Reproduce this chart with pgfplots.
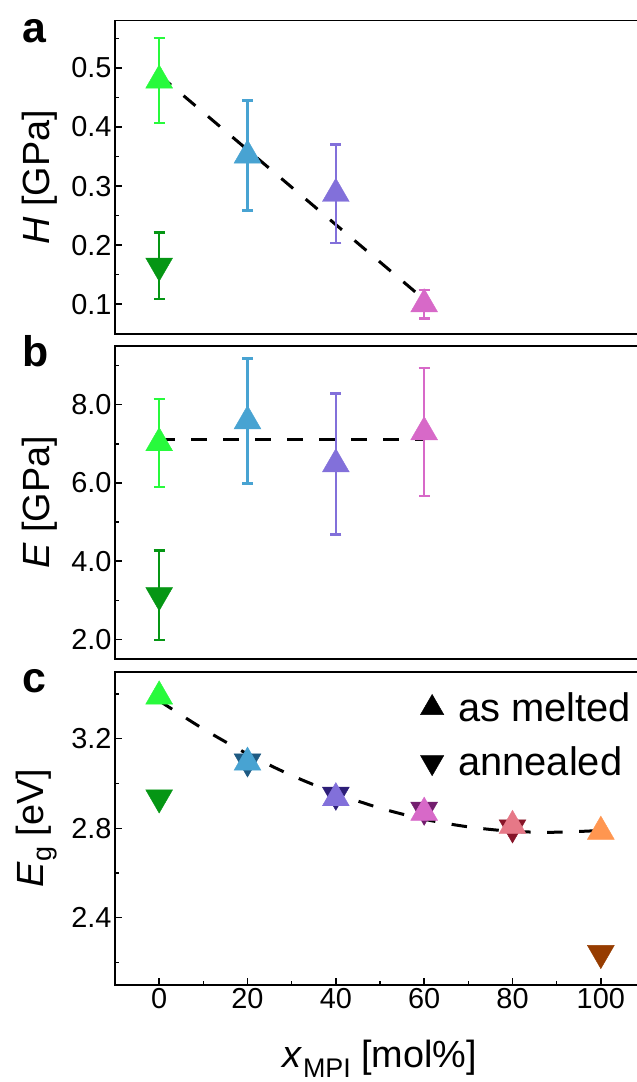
\documentclass[border=0pt]{standalone}
\usepackage{fontspec}
\setmainfont{Liberation Sans}
\usepackage{pgfplots}
\pgfplotsset{compat=1.18}

\definecolor{gA}{RGB}{40,250,60}
\definecolor{gB}{RGB}{5,150,20}
\definecolor{bA}{RGB}{72,163,210}
\definecolor{bB}{RGB}{30,90,130}
\definecolor{pA}{RGB}{130,112,218}
\definecolor{pB}{RGB}{45,30,120}
\definecolor{oA}{RGB}{215,105,200}
\definecolor{oB}{RGB}{115,30,110}
\definecolor{rA}{RGB}{230,120,135}
\definecolor{rB}{RGB}{135,20,40}
\definecolor{yA}{RGB}{255,150,80}
\definecolor{yB}{RGB}{150,60,0}

\pgfplotsset{
  common/.style={
    scale only axis, width=530bp, height=313bp,
    xmin=-10, xmax=110,
    axis line style={line width=1.6bp},
    tick align=inside, xtick pos=left, ytick pos=left,
    major tick length=7bp, minor tick length=4bp,
    every tick/.style={line width=1.4bp, black},
    ticklabel style={font=\fontsize{29}{34}\selectfont},
    label style={font=\fontsize{38}{44}\selectfont},
    /pgf/number format/assume math mode=true,
    yticklabel style={/pgf/number format/.cd, fixed, fixed zerofill, precision=1},
    clip=false,
  },
  up/.style={only marks, mark=triangle*, mark size=15.5bp, color=#1,
    mark options={solid, fill=#1, draw=#1, line width=0.4bp},
    error bars/y dir=both, error bars/y explicit,
    error bars/error bar style={line width=2.5bp, #1},
    error bars/error mark options={rotate=90, mark size=5.5bp, line width=2.5bp, #1}},
  dn/.style={only marks, mark=triangle*, mark size=15.5bp, color=#1,
    mark options={solid, rotate=180, fill=#1, draw=#1, line width=0.4bp},
    error bars/y dir=both, error bars/y explicit,
    error bars/error bar style={line width=2.5bp, #1},
    error bars/error mark options={rotate=90, mark size=5.5bp, line width=2.5bp, #1}},
  fit/.style={black, line width=3bp, dash pattern=on 15.5bp off 16.5bp, no marks},
}

\begin{document}
\begin{tikzpicture}
\useasboundingbox (0,0) rectangle (637bp,-1082bp);

% ---------- panel a ----------
\begin{axis}[common, at={(115bp,-20.7bp)}, anchor=north west,
  ymin=0.05, ymax=0.58,
  ytick={0.1,0.2,0.3,0.4,0.5}, minor ytick={0.15,0.25,0.35,0.45,0.55},
  xtick=\empty,
  ylabel={\textit{H} [GPa]},
  ylabel style={at={(axis description cs:-0.1415,0.5)}, anchor=center},
]
\addplot[fit] coordinates {(0,0.488) (60,0.108)};
\addplot[dn=gB] coordinates {(0,0.165) +- (0,0.056)};
\addplot[up=gA] coordinates {(0,0.479) +- (0,0.072)};
\addplot[up=bA] coordinates {(20,0.352) +- (0,0.093)};
\addplot[up=pA] coordinates {(40,0.287) +- (0,0.083)};
\addplot[up=oA] coordinates {(60,0.100) +- (0,0.024)};
\end{axis}

% ---------- panel b ----------
\begin{axis}[common, at={(115bp,-346bp)}, anchor=north west,
  ymin=1.5, ymax=9.5,
  ytick={2,4,6,8}, minor ytick={3,5,7,9},
  xtick=\empty,
  ylabel={\textit{E} [GPa]},
  ylabel style={at={(axis description cs:-0.1415,0.5)}, anchor=center},
]
\addplot[fit] coordinates {(0,7.1) (60,7.1)};
\addplot[dn=gB] coordinates {(0,3.13) +- (0,1.14)};
\addplot[up=gA] coordinates {(0,7.02) +- (0,1.12)};
\addplot[up=bA] coordinates {(20,7.58) +- (0,1.60)};
\addplot[up=pA] coordinates {(40,6.48) +- (0,1.80)};
\addplot[up=oA] coordinates {(60,7.30) +- (0,1.64)};
\end{axis}

% ---------- panel c ----------
\begin{axis}[common, at={(115bp,-671.7bp)}, anchor=north west,
  ymin=2.1, ymax=3.5,
  ytick={2.4,2.8,3.2}, minor ytick={2.2,2.6,3.0,3.4},
  xtick={0,20,40,60,80,100}, minor xtick={10,30,50,70,90},
  xticklabel style={/pgf/number format/.cd, fixed, precision=0},
  ylabel={\textit{E}\raisebox{-0.22em}{\fontsize{27}{30}\selectfont g} [eV]},
  ylabel style={at={(axis description cs:-0.148,0.5)}, anchor=center},
  xlabel={\textit{x}\raisebox{-0.25em}{\fontsize{27}{30}\selectfont MPI} [mol\%]},
  xlabel style={at={(axis description cs:0.5,-0.265)}, anchor=base},
  legend style={at={(axis description cs:0.575,0.94)}, anchor=north west,
    draw=none, fill=none, inner sep=0pt, row sep=20bp,
    font=\fontsize{40}{46}\selectfont,
    nodes={inner sep=2bp}},
  legend cell align=left,
  legend image code/.code={\draw[#1] plot coordinates {(12bp,0bp)}; \path (0bp,0bp) (36bp,0bp);},
]
\addlegendimage{only marks, mark=triangle*, mark size=13.5bp, black, mark options={solid, fill=black}}
\addlegendentry{as melted}
\addlegendimage{only marks, mark=triangle*, mark size=13.5bp, black, mark options={solid, rotate=180, fill=black}}
\addlegendentry{annealed}
\addplot[fit, smooth, forget plot] coordinates {(0,3.370) (10,3.244) (20,3.132) (30,3.036) (40,2.956) (50,2.890) (60,2.840) (70,2.806) (80,2.786) (90,2.782) (100,2.790)};
\addplot[forget plot, dn=gB] coordinates {(0,2.937)};
\addplot[forget plot, dn=bB] coordinates {(20,3.098)};
\addplot[forget plot, dn=pB] coordinates {(40,2.949)};
\addplot[forget plot, dn=oB] coordinates {(60,2.882)};
\addplot[forget plot, dn=rB] coordinates {(80,2.803)};
\addplot[forget plot, dn=yB] coordinates {(100,2.241)};
\addplot[forget plot, up=gA] coordinates {(0,3.390)};
\addplot[forget plot, up=bA] coordinates {(20,3.094)};
\addplot[forget plot, up=pA] coordinates {(40,2.935)};
\addplot[forget plot, up=oA] coordinates {(60,2.870)};
\addplot[forget plot, up=rA] coordinates {(80,2.811)};
\addplot[forget plot, up=yA] coordinates {(100,2.785)};
\end{axis}

\node[anchor=base west, font=\fontsize{43}{48}\selectfont\bfseries] at (19bp,-42bp) {a};
\node[anchor=base west, font=\fontsize{43}{48}\selectfont\bfseries] at (19bp,-366.5bp) {b};
\node[anchor=base west, font=\fontsize{43}{48}\selectfont\bfseries] at (19bp,-692bp) {c};
\end{tikzpicture}
\end{document}
